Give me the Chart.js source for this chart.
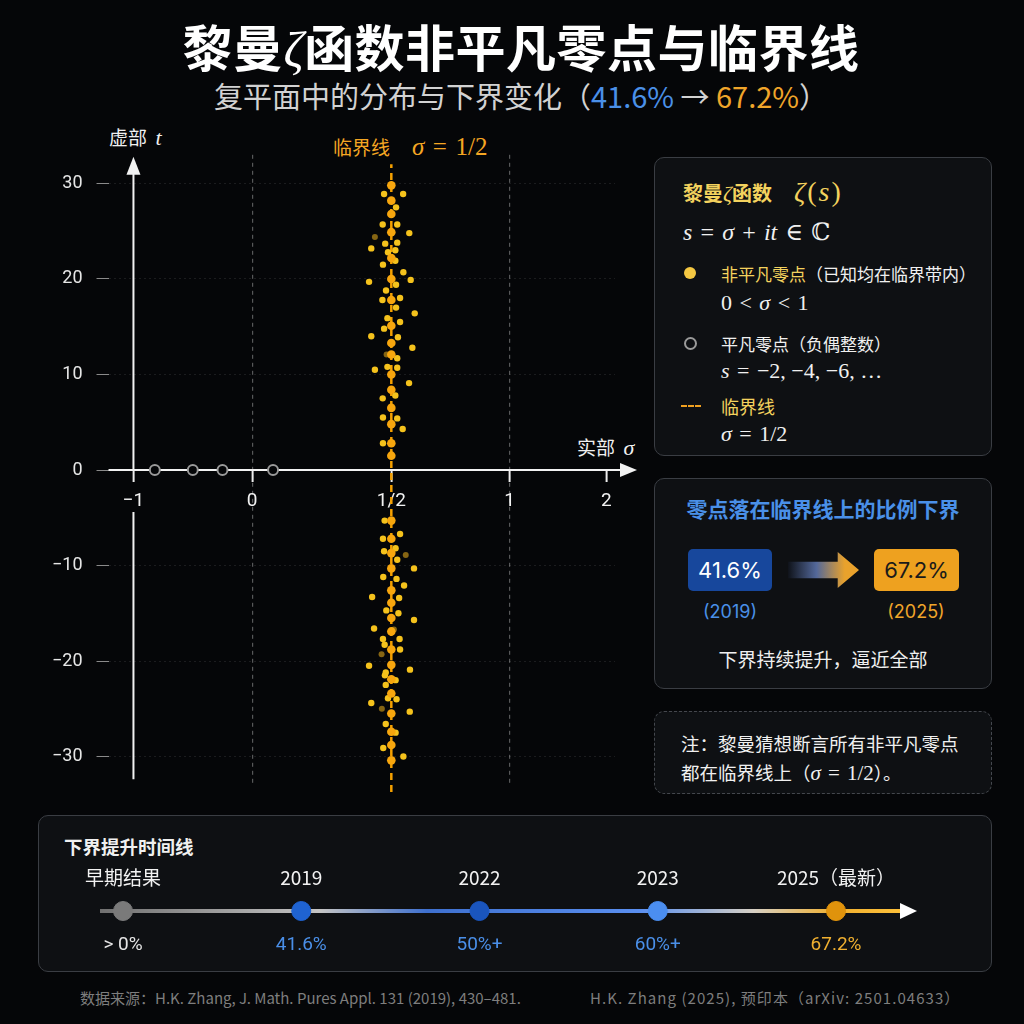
<!DOCTYPE html>
<html>
<head>
<meta charset="utf-8">
<script src="https://cdn.jsdelivr.net/npm/chart.js@4.4.1/dist/chart.umd.min.js"></script>
<style>
  html, body { margin: 0; padding: 0; }
  body {
    width: 1024px; height: 1024px; position: relative; overflow: hidden;
    background: #050608; color: #f0f0f0;
    font-family: "Noto Sans CJK SC", "Noto Sans", sans-serif;
  }
  .abs { position: absolute; white-space: nowrap; }
  .ln { position: absolute; white-space: nowrap; transform: translateY(-50%); }
  .ctr { transform: translate(-50%, -50%); }
  .m { font-family: "Liberation Serif", "DejaVu Serif", serif; font-style: italic; }
  .mr { font-family: "Liberation Serif", "DejaVu Serif", serif; font-style: normal; }
  .sp { display: inline-block; width: 0.34em; }
  .panel {
    position: absolute; background: #0e1013; border: 1.5px solid #3a3d43;
    border-radius: 10px; box-sizing: border-box;
  }
  #title { left: 521px; top: 45px; font-size: 50px; font-weight: 700; color: #fff; letter-spacing: 0.5px; }
  #subtitle { left: 521px; top: 95px; font-size: 29px; color: #d2d2d2; }
  .yel { color: #f3d25e; }
  .blue { color: #4a90e8; }
  .org { color: #f0a52a; }
</style>
</head>
<body>

<div id="title" class="abs ctr">黎曼<span class="m" style="font-weight:400">ζ</span>函数非平凡零点与临界线</div>
<div id="subtitle" class="abs ctr">复平面中的分布与下界变化（<span class="blue">41.6%</span> → <span class="org">67.2%</span>）</div>

<div class="ln" style="left:109px;top:137px;font-size:19px;">虚部&nbsp;&nbsp;<span class="m" style="font-size:22px">t</span></div>
<div class="ln" style="left:333px;top:147px;font-size:19px;color:#f5a623;">临界线<span style="display:inline-block;width:22px"></span><span class="m" style="font-size:25px">σ</span><span class="mr" style="font-size:25px"><span class="sp"></span>=<span class="sp"></span>1/2</span></div>
<div class="ln" style="left:577px;top:447px;font-size:19px;">实部&nbsp;&nbsp;<span class="m" style="font-size:22px">σ</span></div>

<div style="position:absolute;left:0;top:130px;width:650px;height:680px;">
  <canvas id="zeros"></canvas>
</div>

<!-- legend panel -->
<div class="panel" style="left:654px;top:157px;width:338px;height:299px;">
  <div class="ln yel" style="left:28px;top:31px;font-size:20px;font-weight:700;">黎曼<span class="m" style="font-weight:400;font-size:22px">ζ</span>函数<span style="display:inline-block;width:22px"></span><span style="font-weight:400;font-size:28px;letter-spacing:2px"><span class="m">ζ</span><span class="mr">(</span><span class="m">s</span><span class="mr">)</span></span></div>
  <div class="ln" style="left:28px;top:71px;font-size:24px;"><span class="m">s</span><span class="mr"><span class="sp"></span>=<span class="sp"></span></span><span class="m">σ</span><span class="mr"><span class="sp"></span>+<span class="sp"></span></span><span class="m">it</span><span class="mr"><span class="sp"></span>∈<span class="sp"></span>ℂ</span></div>
  <div class="abs" style="left:29px;top:109px;width:12px;height:12px;border-radius:50%;background:#f5c842;"></div>
  <div class="ln" style="left:66px;top:115px;font-size:17px;"><span class="yel">非平凡零点</span>（已知均在临界带内）</div>
  <div class="ln mr" style="left:66px;top:145px;font-size:22px;">0<span class="sp"></span>&lt;<span class="sp"></span><span class="m">σ</span><span class="sp"></span>&lt;<span class="sp"></span>1</div>
  <div class="abs" style="left:29px;top:179px;width:9px;height:9px;border-radius:50%;border:2px solid #9a9a9a;"></div>
  <div class="ln" style="left:66px;top:185px;font-size:17px;">平凡零点（负偶整数）</div>
  <div class="ln mr" style="left:66px;top:213px;font-size:22px;"><span class="m">s</span><span class="sp"></span>=<span class="sp"></span>−2, −4, −6, …</div>
  <div class="abs" style="left:26px;top:247px;width:20px;height:0;border-top:2.5px dashed #f0a020;"></div>
  <div class="ln yel" style="left:66px;top:248px;font-size:18px;">临界线</div>
  <div class="ln mr" style="left:66px;top:276px;font-size:22px;"><span class="m">σ</span><span class="sp"></span>=<span class="sp"></span>1/2</div>
</div>

<!-- bound panel -->
<div class="panel" style="left:654px;top:478px;width:338px;height:211px;">
  <div class="abs ctr blue" style="left:168px;top:29px;font-size:21px;font-weight:700;">零点落在临界线上的比例下界</div>
  <div class="abs" style="left:33px;top:70px;width:84px;height:42px;border-radius:5px;background:#17479c;color:#fff;font-size:22px;line-height:42px;text-align:center;font-family:Inter,sans-serif;">41.6%</div>
  <div class="abs" style="left:133px;top:73px;width:71px;height:36px;background:linear-gradient(90deg, rgba(40,70,150,0.05), #53689a 40%, #e9a22c 80%);clip-path:polygon(0 27%,70% 27%,70% 0,100% 50%,70% 100%,70% 73%,0 73%);"></div>
  <div class="abs" style="left:219px;top:70px;width:85px;height:42px;border-radius:5px;background:#eea11f;color:#1a1a1a;font-size:22px;line-height:42px;text-align:center;font-family:Inter,sans-serif;">67.2%</div>
  <div class="abs ctr blue" style="left:75px;top:132px;font-size:18px;font-family:Inter,sans-serif;">(2019)</div>
  <div class="abs ctr org" style="left:261px;top:132px;font-size:18px;font-family:Inter,sans-serif;">(2025)</div>
  <div class="abs ctr" style="left:168px;top:179px;font-size:19px;">下界持续提升，逼近全部</div>
</div>

<!-- note panel -->
<div class="panel" style="left:654px;top:711px;width:338px;height:83px;border-style:dashed;border-color:#44474d;">
  <div class="ln" style="left:26px;top:31px;font-size:18.5px;">注：黎曼猜想断言所有非平凡零点</div>
  <div class="ln" style="left:26px;top:60px;font-size:18.5px;">都在临界线上（<span class="m" style="font-size:21px">σ</span><span class="mr" style="font-size:21px"><span class="sp"></span>=<span class="sp"></span>1/2</span>）。</div>
</div>

<!-- timeline panel -->
<div class="panel" style="left:38px;top:815px;width:954px;height:157px;">
  <div class="ln" style="left:25px;top:30px;font-size:18.5px;font-weight:700;">下界提升时间线</div>
</div>
<div style="position:absolute;left:38px;top:855px;width:954px;height:115px;">
  <canvas id="timeline"></canvas>
</div>

<div class="ln" style="left:80px;top:997px;font-size:15px;color:#7e7e7e;">数据来源：H.K. Zhang, J. Math. Pures Appl. 131 (2019), 430–481.</div>
<div class="ln" style="left:590px;top:997px;font-size:15px;color:#7e7e7e;letter-spacing:1.05px;">H.K. Zhang (2025), 预印本（arXiv: 2501.04633）</div>

<script>
// ---- data ----
const xTickVals = [-1, 0, 0.5, 1, 2];
const xTickLabels = ['\u22121', '0', '1/2', '1', '2'];
const yTickVals = [-30, -20, -10, 0, 10, 20, 30];

// schematic trivial zeros drawn on the real axis
const trivialSigma = [-0.82, -0.50, -0.25, 0.075];
const trivialT = [0, 0, 0, 0];

// zeros sitting right on sigma = 1/2
const onLineT = [29.8, 28.2, 26.8, 24.9, 22.2, 20.0, 17.8, 15.1, 13.3, 12.1, 10.0, 8.4, 6.5, 4.8, 2.8, 1.5,
  -5.3, -7.2, -8.7, -10.3, -12.6, -13.9, -15.5, -16.9, -18.8, -20.4, -21.9, -23.4, -25.5, -27.4, -28.8, -30.4];

// scattered zeros, [sigma, t]
const offLine = [
  [0.474, 28.9], [0.550, 28.9], [0.520, 27.5], [0.469, 25.7], [0.525, 25.7], [0.576, 24.8],
  [0.428, 23.2], [0.478, 23.7], [0.525, 23.8], [0.488, 22.8], [0.517, 23.0], [0.470, 21.5],
  [0.517, 21.9], [0.551, 20.7], [0.420, 19.7], [0.582, 19.9], [0.481, 18.8], [0.520, 19.4],
  [0.468, 17.8], [0.537, 18.0], [0.520, 17.0], [0.486, 15.9], [0.599, 16.4], [0.537, 15.5],
  [0.474, 14.8], [0.428, 14.0], [0.528, 13.9], [0.589, 12.8], [0.525, 11.7], [0.486, 10.8],
  [0.525, 10.7], [0.441, 10.5], [0.575, 9.1], [0.469, 7.5], [0.517, 7.8], [0.470, 5.5],
  [0.525, 5.4], [0.548, 4.3], [0.470, 2.8],
  [0.476, -5.3], [0.537, -6.7], [0.470, -7.2], [0.474, -8.5], [0.518, -8.2], [0.525, -9.4],
  [0.596, -10.3], [0.471, -11.2], [0.522, -11.4], [0.554, -12.1], [0.431, -13.3], [0.533, -13.4],
  [0.482, -14.7], [0.530, -15.0], [0.596, -15.7], [0.438, -16.6], [0.470, -17.7], [0.535, -17.7],
  [0.476, -18.3], [0.537, -18.8], [0.420, -20.5], [0.579, -20.9], [0.480, -21.2], [0.477, -21.5],
  [0.518, -22.0], [0.480, -22.5], [0.522, -24.0], [0.488, -23.9], [0.428, -24.4], [0.578, -25.3],
  [0.480, -26.6], [0.518, -27.5], [0.471, -29.1], [0.551, -30.0]
];
const offLineFaint = [[0.441, 24.4], [0.483, 12.1], [0.561, -8.9], [0.511, -16.7], [0.465, -19.3], [0.466, -25.0]];

// critical line extent
const criticalSigma = 0.5;
const criticalT = [-33.7, 32];

// timeline
const tlLabels = ['早期结果', '2019', '2022', '2023', '2025（最新）'];
const tlValues = ['> 0%', '41.6%', '50%+', '60%+', '67.2%'];
const tlLevel = [0, 0, 0, 0, 0];
const tlDotColors = ['#7a7a7a', '#1f63d1', '#1a55bd', '#4b8ef0', '#e0930c'];
const tlTextColors = ['#e6e6e6', '#4a8fe8', '#4a8fe8', '#4a8fe8', '#f0b030'];

// ---- warped sigma axis (the strip is drawn wider than the rest) ----
const warpKnots = [-1, 0, 0.5, 1, 2];
const warpSpan = [0, 119, 258.5, 377, 474];

function warp(v) {
    let i = 0;
    if (v >= warpKnots[warpKnots.length - 1]) i = warpKnots.length - 2;
    else while (i < warpKnots.length - 2 && v > warpKnots[i + 1]) i++;
    return warpSpan[i] + (v - warpKnots[i]) * (warpSpan[i + 1] - warpSpan[i]) / (warpKnots[i + 1] - warpKnots[i]);
}

function unwarp(w) {
    let i = 0;
    if (w >= warpSpan[warpSpan.length - 1]) i = warpSpan.length - 2;
    else while (i < warpSpan.length - 2 && w > warpSpan[i + 1]) i++;
    return warpKnots[i] + (w - warpSpan[i]) * (warpKnots[i + 1] - warpKnots[i]) / (warpSpan[i + 1] - warpSpan[i]);
}

class WarpScale extends Chart.LinearScale {
    getPixelForValue(v) {
        if (v === null || v === undefined || isNaN(v)) return NaN;
        const a = warp(this.min), b = warp(this.max);
        return this.getPixelForDecimal((warp(v) - a) / (b - a));
    }
    getValueForPixel(p) {
        const a = warp(this.min), b = warp(this.max);
        return unwarp(a + this.getDecimalForPixel(p) * (b - a));
    }
}
WarpScale.id = 'warp';
WarpScale.defaults = Chart.LinearScale.defaults;
Chart.register(WarpScale);

// axes with arrow heads, sigma axis at t = 0 and t axis at sigma = -1
const axisArrows = {
    id: 'axisArrows',
    beforeDatasetsDraw(chart) {
        const { ctx, chartArea } = chart;
        const x = chart.scales.x, y = chart.scales.y;
        const y0 = y.getPixelForValue(0);
        const xa = x.getPixelForValue(-1);
        ctx.save();
        ctx.strokeStyle = '#f2f2f2';
        ctx.fillStyle = '#f2f2f2';
        ctx.lineWidth = 2;

        ctx.beginPath();
        ctx.moveTo(chartArea.left, y0);
        ctx.lineTo(chartArea.right + 8, y0);
        ctx.stroke();
        ctx.beginPath();
        ctx.moveTo(chartArea.right + 22, y0);
        ctx.lineTo(chartArea.right + 5, y0 - 7);
        ctx.lineTo(chartArea.right + 5, y0 + 7);
        ctx.closePath();
        ctx.fill();

        // t axis, left open where the "-1" label sits
        ctx.beginPath();
        ctx.moveTo(xa, chartArea.bottom - 6);
        ctx.lineTo(xa, y0 + 42);
        ctx.moveTo(xa, y0);
        ctx.lineTo(xa, chartArea.top + 14);
        ctx.stroke();
        ctx.beginPath();
        ctx.moveTo(xa, chartArea.top + 2);
        ctx.lineTo(xa - 7, chartArea.top + 20);
        ctx.lineTo(xa + 7, chartArea.top + 20);
        ctx.closePath();
        ctx.fill();
        ctx.restore();
    }
};

new Chart(document.getElementById('zeros'), {
    type: 'scatter',
    data: {
        datasets: [
            {
                label: 'trivial',
                data: trivialSigma.map((s, i) => ({ x: s, y: trivialT[i] })),
                pointRadius: 5,
                borderWidth: 2,
                borderColor: '#9a9a9a',
                backgroundColor: '#050608'
            },
            {
                label: 'on line',
                data: onLineT.map(t => ({ x: criticalSigma, y: t })),
                pointRadius: 4.3,
                borderWidth: 0,
                backgroundColor: '#f7a60e'
            },
            {
                label: 'off line',
                data: offLine.map(p => ({ x: p[0], y: p[1] })),
                pointRadius: 3.2,
                borderWidth: 0,
                backgroundColor: '#f5c21c'
            },
            {
                label: 'faint',
                data: offLineFaint.map(p => ({ x: p[0], y: p[1] })),
                pointRadius: 3,
                borderWidth: 0,
                backgroundColor: 'rgba(240,180,30,0.55)'
            },
            {
                label: 'critical',
                type: 'line',
                data: criticalT.map(t => ({ x: criticalSigma, y: t })),
                borderColor: '#f5a000',
                borderWidth: 2.5,
                borderDash: [7, 5],
                pointRadius: 0,
                clip: false
            }
        ]
    },
    options: {
        responsive: true,
        maintainAspectRatio: false,
        animation: false,
        layout: { padding: { left: 38, right: 35, top: 24, bottom: 13 } },
        plugins: { legend: { display: false }, tooltip: { enabled: false } },
        scales: {
            x: {
                type: 'warp',
                position: { y: 0 },
                min: -1.21,
                max: 2.09,
                afterBuildTicks: s => { s.ticks = xTickVals.map(v => ({ value: v })); },
                grid: {
                    color: ctx => (ctx.tick && (ctx.tick.value === 0 || ctx.tick.value === 1)) ? 'rgba(255,255,255,0.33)' : 'rgba(0,0,0,0)',
                    lineWidth: 1.2,
                    tickColor: '#eeeeee',
                    tickLength: 12,
                    tickWidth: 2
                },
                border: { display: false, dash: [4, 4] },
                ticks: {
                    autoSkip: false,
                    maxRotation: 0,
                    padding: 8,
                    color: '#f2f2f2',
                    font: { size: 19, family: 'Roboto, "Noto Sans CJK SC", sans-serif' },
                    callback: (v, i) => xTickLabels[i]
                }
            },
            y: {
                type: 'linear',
                position: 'left',
                min: -33,
                max: 33,
                afterBuildTicks: s => { s.ticks = yTickVals.map(v => ({ value: v })); },
                grid: {
                    color: 'rgba(255,255,255,0.09)',
                    tickColor: '#8a8a8a',
                    tickLength: 12,
                    lineWidth: 1
                },
                border: { display: false, dash: [2, 3] },
                ticks: {
                    padding: 14,
                    color: '#e6e6e6',
                    font: { size: 18, family: 'Roboto, "Noto Sans CJK SC", sans-serif' },
                    callback: v => v < 0 ? '\u2212' + Math.abs(v) : String(v)
                }
            }
        }
    },
    plugins: [axisArrows]
});

// gradient timeline rail with arrow
const timelineRail = {
    id: 'timelineRail',
    beforeDatasetsDraw(chart) {
        const { ctx, chartArea } = chart;
        const yc = (chartArea.top + chartArea.bottom) / 2;
        const x0 = chartArea.left - 23, x1 = chartArea.right + 66, tip = chartArea.right + 81;
        const g = ctx.createLinearGradient(x0, 0, tip, 0);
        g.addColorStop(0, '#707070');
        g.addColorStop(0.27, '#c4c4c4');
        g.addColorStop(0.4, '#3e70cf');
        g.addColorStop(0.66, '#5a8ff0');
        g.addColorStop(0.8, '#d6d0c4');
        g.addColorStop(0.9, '#f0b030');
        g.addColorStop(1, '#ffc43c');
        ctx.save();
        ctx.fillStyle = g;
        ctx.fillRect(x0, yc - 2, x1 - x0, 4);
        ctx.fillStyle = '#ffffff';
        ctx.beginPath();
        ctx.moveTo(tip, yc);
        ctx.lineTo(x1 - 2, yc - 8);
        ctx.lineTo(x1 - 2, yc + 8);
        ctx.closePath();
        ctx.fill();
        ctx.restore();
    }
};

new Chart(document.getElementById('timeline'), {
    type: 'line',
    data: {
        labels: tlLabels,
        datasets: [{
            data: tlLevel,
            showLine: false,
            pointRadius: 9.5,
            pointBorderWidth: 1,
            pointBackgroundColor: tlDotColors,
            pointBorderColor: tlDotColors,
            clip: false
        }]
    },
    options: {
        responsive: true,
        maintainAspectRatio: false,
        animation: false,
        layout: { padding: { left: 85, right: 156, top: 6, bottom: 9 } },
        plugins: { legend: { display: false }, tooltip: { enabled: false } },
        scales: {
            x: {
                type: 'category',
                position: 'top',
                offset: false,
                grid: { display: false },
                border: { display: false },
                ticks: {
                    autoSkip: false,
                    maxRotation: 0,
                    padding: 14,
                    color: '#f2f2f2',
                    font: { size: 19, family: '"Noto Sans CJK SC", sans-serif' }
                }
            },
            x2: {
                type: 'category',
                position: 'bottom',
                labels: tlValues,
                offset: false,
                grid: { display: false },
                border: { display: false },
                ticks: {
                    autoSkip: false,
                    maxRotation: 0,
                    padding: 15,
                    color: ctx => tlTextColors[ctx.index],
                    font: { size: 19, family: 'Roboto, "Noto Sans CJK SC", sans-serif' }
                }
            },
            y: { display: false, min: -1, max: 1 }
        }
    },
    plugins: [timelineRail]
});
</script>
</body>
</html>
